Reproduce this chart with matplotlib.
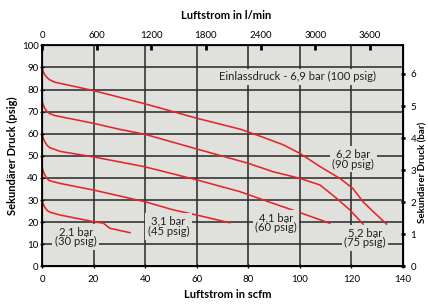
import numpy as np
import matplotlib.pyplot as plt

plt.rcParams['font.family'] = ['Lato', 'DejaVu Sans']

# Kurven: Sekundaerdruck (psig) ueber Luftstrom (scfm), je Einlassdruck
x_100 = [0, 0.4, 1, 2, 3, 5, 20, 40, 60, 77, 85, 93.5, 100, 108, 115.5, 120.5, 124.5, 128.5, 133.6]
y_100 = [90, 88.4, 86.8, 85.3, 84.4, 83.3, 79.5, 73.5, 67, 62, 58.7, 55, 51.1, 45, 39.8, 35.3, 29.2, 24.7, 19.1]

x_90 = [0, 0.4, 1, 2, 3, 5, 20, 30, 40, 60, 80, 89.6, 100, 107.8, 114.2, 119.4, 124.5]
y_90 = [75, 73.4, 71.6, 70, 69.1, 68.2, 64.7, 62, 59.7, 53.1, 46.6, 42.8, 39.8, 36.8, 30.8, 25.5, 19.1]

x_75 = [0, 0.4, 1, 2, 3, 7, 20, 40, 60, 76.7, 89.6, 100, 111.6]
y_75 = [60, 58.3, 56.5, 54.7, 53.7, 52, 49.5, 45, 39.1, 33.8, 28.5, 24.3, 19.5]

x_60 = [0, 0.4, 1, 2, 3, 7, 20, 40, 51, 60, 72.8]
y_60 = [45, 43.3, 41.5, 39.6, 38.7, 37.5, 34.5, 29.2, 25.5, 23.2, 19.7]

x_30 = [0, 0.4, 1, 2, 3, 7, 20, 23.8, 26.3, 34.1]
y_30 = [30, 28.4, 26.8, 25.3, 24.5, 23.2, 20.2, 19.5, 17.2, 15.2]

curves = [(x_100, y_100), (x_90, y_90), (x_75, y_75), (x_60, y_60), (x_30, y_30)]

# Beschriftungen der Kurven: Text, x (scfm), y (psig)
labels = ['Einlassdruck - 6,9 bar (100 psig)', '6,2 bar\n(90 psig)', '5,2 bar\n(75 psig)',
          '4,1 bar\n(60 psig)', '3,1 bar\n(45 psig)', '2,1 bar\n(30 psig)']
label_x = [99.2, 120.7, 125.2, 90.8, 49.1, 13.1]
label_y = [85.8, 48.5, 12.9, 19.7, 18, 13.4]

lpm_ticks = [0, 600, 1200, 1800, 2400, 3000, 3600]
bar_ticks = [0, 1, 2, 3, 4, 5, 6]
SCFM_TO_LPM = 28.3168
PSI_PER_BAR = 14.5038

bg = '#e0e0dc'
red = '#e8232b'

fig = plt.figure(figsize=(4.28, 3.04), dpi=100)
ax = fig.add_axes([42 / 428, 1 - 266.3 / 304, 361 / 428, 221 / 304])
ax.set_facecolor(bg)

for xs, ys in curves:
    ax.plot(xs, ys, color=red, lw=1.15, zorder=3)

for txt, lx, ly in zip(labels, label_x, label_y):
    ax.text(lx, ly, txt, ha='center', va='center', fontsize=8.1, color='#222222',
            linespacing=0.92, zorder=4,
            bbox=dict(boxstyle='square,pad=0.22', facecolor=bg, edgecolor='none'))

ax.set_xlim(0, 140)
ax.set_ylim(0, 100)
ax.set_xticks(range(0, 141, 20))
ax.set_yticks(range(0, 101, 10))
ax.grid(True, color='#2e2e2e', lw=1.15)
ax.set_axisbelow(True)
ax.tick_params(axis='y', direction='inout', length=3, width=1, pad=1, labelsize=7)
ax.tick_params(axis='x', direction='inout', length=3, width=1, pad=5, labelsize=7)
for s in ax.spines.values():
    s.set_linewidth(1.3)
    s.set_color('black')

# obere Achse in l/min
axt = ax.twiny()
axt.set_xlim(0, 140 * SCFM_TO_LPM)
axt.set_xticks(lpm_ticks)
axt.tick_params(axis='x', direction='in', length=3.5, width=2, pad=4, labelsize=7)

# rechte Achse in bar
axr = ax.twinx()
axr.set_ylim(0, 100 / PSI_PER_BAR)
axr.set_yticks(bar_ticks)
axr.tick_params(axis='y', direction='inout', length=3, width=2, pad=4, labelsize=7)

fig.text(226 / 428, 1 - 15.7 / 304, 'Luftstrom in l/min', ha='center', va='center',
         fontsize=8, fontweight='bold')
fig.text(228 / 428, 1 - 295 / 304, 'Luftstrom in scfm', ha='center', va='center',
         fontsize=8, fontweight='bold')
fig.text(12 / 428, 1 - 156 / 304, 'Sekundärer Druck (psig)', ha='center', va='center',
         rotation=90, fontsize=8, fontweight='bold')
fig.text(423 / 428, 1 - 172 / 304, 'Sekundärer Druck (bar)', ha='center', va='center',
         rotation=90, fontsize=7, fontweight='bold')

fig.savefig('out.png', dpi=100, facecolor='white')
